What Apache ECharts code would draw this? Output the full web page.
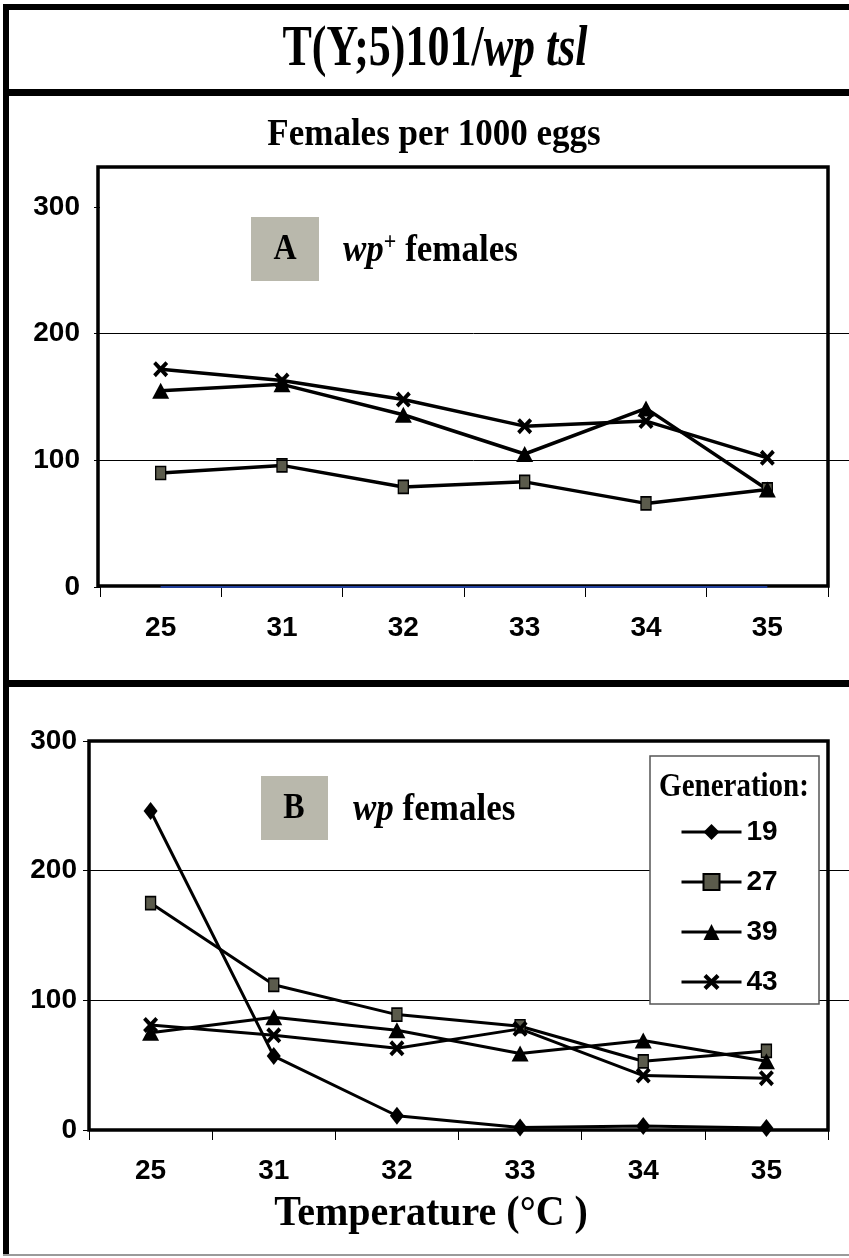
<!DOCTYPE html>
<html><head><meta charset="utf-8">
<script src="https://cdn.jsdelivr.net/npm/echarts@6/dist/echarts.min.js"></script>
<style>html,body{margin:0;padding:0;background:#fff}#c{width:849px;height:1258px}</style>
</head><body><div id="c"></div>
<script>
// ---- data ----
const temperatures = ['25', '31', '32', '33', '34', '35'];
const generations = ['19', '27', '39', '43'];
const gridValues = [100, 200];
// Panel A: wp+ females per 1000 eggs
const a19 = [0, 0, 0, 0, 0, 0];
const a27 = [90, 96, 79, 83, 66, 77];
const a39 = [155, 160, 136, 105, 141, 77];
const a43 = [172, 163, 148, 127, 131, 102];
// Panel B: wp females per 1000 eggs
const b19 = [246, 57, 11, 2, 3, 1.5];
const b27 = [175, 112, 89, 80, 53, 61];
const b39 = [75, 87, 77, 59, 69, 53];
const b43 = [81, 73, 63, 78, 42, 40];

const SANS = '"Liberation Sans", Arial, sans-serif';
const SERIF = '"Liberation Serif", "Times New Roman", serif';
const XPATH = 'path://M0,1.8L1.8,0L5,3.2L8.2,0L10,1.8L6.8,5L10,8.2L8.2,10L5,6.8L1.8,10L0,8.2L3.2,5Z';
const markers = {
  '19': { symbol: 'diamond', symbolSize: [14, 18], itemStyle: { color: '#000', borderWidth: 0 } },
  '27': { symbol: 'rect', symbolSize: [10, 13], itemStyle: { color: '#5b5b4c', borderColor: '#000', borderWidth: 1.5 } },
  '39': { symbol: 'triangle', symbolSize: [17, 16], itemStyle: { color: '#000', borderWidth: 0 } },
  '43': { symbol: XPATH, symbolSize: [15, 16], itemStyle: { color: '#000', borderWidth: 0 } }
};
function mk(name, data, idx, lw) {
  const m = markers[name];
  return {
    type: 'line', name: name, data: data, xAxisIndex: idx, yAxisIndex: idx,
    symbol: m.symbol, symbolSize: m.symbolSize, showSymbol: true, clip: false,
    itemStyle: m.itemStyle, lineStyle: { color: '#000', width: lw }, z: 3
  };
}
function gridSeries(idx) {
  return {
    type: 'line', data: [], xAxisIndex: idx, yAxisIndex: idx, z: 1, silent: true,
    markLine: {
      silent: true, symbol: ['none', 'none'], label: { show: false },
      lineStyle: { color: '#000', width: 1, type: 'solid' },
      emphasis: { disabled: true },
      data: gridValues.map(v => ({ yAxis: v }))
    }
  };
}
const labelFont = { fontFamily: SANS, fontWeight: 'bold', fontSize: 28, color: '#000' };
function catAxis(idx) {
  return {
    type: 'category', gridIndex: idx, data: temperatures, boundaryGap: true,
    axisLine: { show: false },
    axisTick: { show: true, inside: false, length: 10, lineStyle: { color: '#000', width: 1 } },
    axisLabel: Object.assign({ margin: 27 }, labelFont),
    splitLine: { show: false }
  };
}
function valAxis(idx, margin) {
  return {
    type: 'value', gridIndex: idx, min: 0, max: 300, interval: 100,
    axisLine: { show: false },
    axisTick: { show: true, inside: false, length: 6, lineStyle: { color: '#000', width: 1 } },
    axisLabel: Object.assign({ margin: margin }, labelFont),
    splitLine: { show: false }
  };
}
function hiddenX(idx) { return { type: 'value', gridIndex: idx, min: 0, max: 1, show: false }; }
function hiddenY(idx) { return { type: 'value', gridIndex: idx, min: 0, max: 300, show: false, splitLine: { show: false } }; }

function txt(x, y, text, rich, align, sy, z) {
  return {
    type: 'text', x: x, y: y, z: z || 20, scaleY: sy || 1,
    style: { text: text, rich: rich, align: align || 'center', verticalAlign: 'middle',
      textAlign: align || 'center', textVerticalAlign: 'middle', fill: '#000' }
  };
}
const serifB = (size, italic) => ({ fontFamily: SERIF, fontWeight: 'bold', fontStyle: italic ? 'italic' : 'normal', fontSize: size, fill: '#000', color: '#000' });

const chart = echarts.init(document.getElementById('c'), null, { renderer: 'canvas' });
chart.setOption({
  animation: false,
  backgroundColor: '#fff',
  grid: [
    { left: 100, top: 207, width: 728, height: 380 },
    { left: 98, top: 207, right: 0, height: 380 },
    { left: 89, top: 741, width: 739, height: 389 },
    { left: 89, top: 741, right: 0, height: 389 }
  ],
  xAxis: [catAxis(0), hiddenX(1), catAxis(2), hiddenX(3)],
  yAxis: [valAxis(0, 20), hiddenY(1), valAxis(2, 12), hiddenY(3)],
  legend: {
    data: generations, orient: 'vertical', left: 675, top: 813, z: 30,
    itemWidth: 60, itemHeight: 20, itemGap: 22, selectedMode: false,
    lineStyle: { width: 3 },
    textStyle: { fontFamily: SANS, fontWeight: 'bold', fontSize: 28, color: '#000', lineHeight: 28 }
  },
  series: [
    mk('19', b19, 2, 3), mk('27', b27, 2, 3), mk('39', b39, 2, 3), mk('43', b43, 2, 3),
    { type: 'line', name: '19', data: a19, xAxisIndex: 0, yAxisIndex: 0, symbol: 'none', clip: false,
      lineStyle: { color: '#22409a', width: 2 }, z: 4 },
    mk('27', a27, 0, 3.5), mk('39', a39, 0, 3.5), mk('43', a43, 0, 3.5),
    gridSeries(1), gridSeries(3)
  ],
  graphic: [
    // outer frame
    { type: 'rect', z: 2, shape: { x: 3, y: 4, width: 6, height: 1252 }, style: { fill: '#000' } },
    { type: 'rect', z: 2, shape: { x: 3, y: 4, width: 846, height: 6 }, style: { fill: '#000' } },
    { type: 'rect', z: 2, shape: { x: 3, y: 89, width: 846, height: 7 }, style: { fill: '#000' } },
    { type: 'rect', z: 2, shape: { x: 3, y: 680, width: 846, height: 7 }, style: { fill: '#000' } },
    { type: 'rect', z: 2, shape: { x: 3, y: 1254, width: 846, height: 2 }, style: { fill: '#9a9a9a' } },
    // plot boxes
    { type: 'rect', z: 2, shape: { x: 98, y: 167, width: 730, height: 419 }, style: { fill: 'none', stroke: '#000', lineWidth: 3.5 } },
    { type: 'rect', z: 2, shape: { x: 89, y: 741, width: 739, height: 389 }, style: { fill: 'none', stroke: '#000', lineWidth: 3.5 } },
    // titles
    txt(435, 50, '{a|T(Y;5)101/}{b|wp tsl}', { a: serifB(44), b: serifB(44, true) }, 'center', 1.28),
    txt(434, 135, '{a|Females per 1000 eggs}', { a: serifB(35) }, 'center', 1.1),
    txt(431, 1214, '{a|Temperature (°C )}', { a: serifB(40) }, 'center', 1.08),
    // panel labels
    { type: 'rect', z: 5, shape: { x: 251, y: 217, width: 68, height: 64 }, style: { fill: '#b9b8ac' } },
    txt(285, 250, '{a|A}', { a: serifB(32) }, 'center', 1.1),
    txt(343, 251, '{b|wp}{s|+}{a| females}', { a: serifB(35), b: serifB(35, true), s: Object.assign(serifB(22), { verticalAlign: 'top' }) }, 'left', 1.1),
    { type: 'rect', z: 5, shape: { x: 261, y: 776, width: 67, height: 64 }, style: { fill: '#b9b8ac' } },
    txt(294, 809, '{a|B}', { a: serifB(32) }, 'center', 1.1),
    txt(353, 810, '{b|wp}{a| females}', { a: serifB(35), b: serifB(35, true) }, 'left', 1.1),
    // legend box
    { type: 'rect', z: 6, shape: { x: 650, y: 756, width: 169, height: 248 }, style: { fill: '#fff', stroke: '#555', lineWidth: 1.5 } },
    txt(734, 788, '{a|Generation:}', { a: serifB(29) }, 'center', 1.13)
  ]
});
</script></body></html>
